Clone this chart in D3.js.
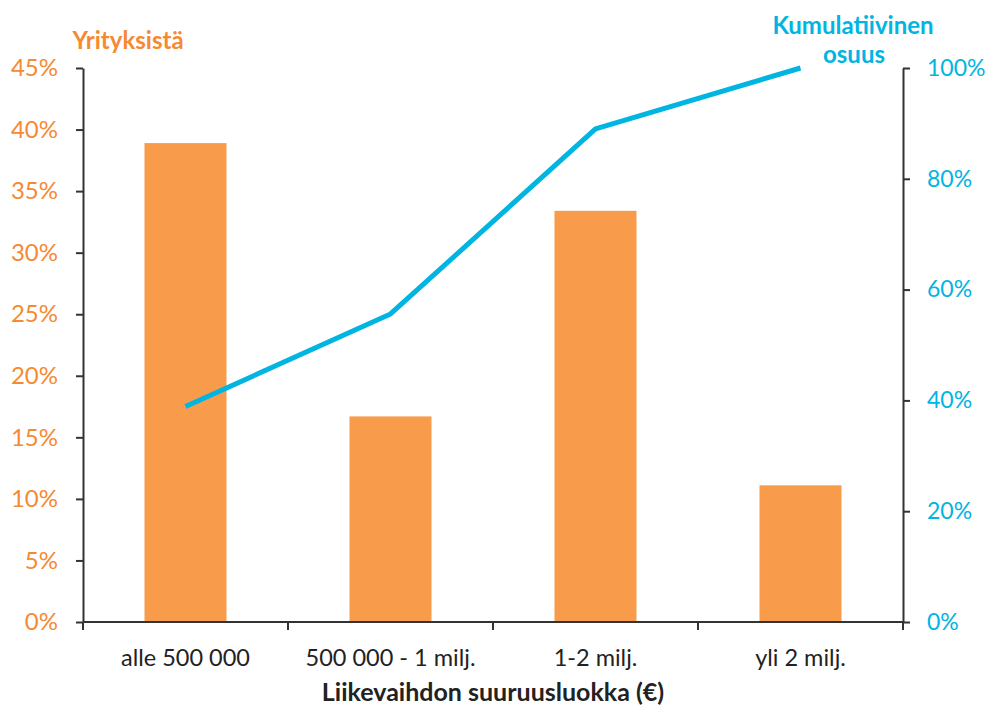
<!DOCTYPE html>
<html>
<head>
<meta charset="utf-8">
<script src="https://cdn.jsdelivr.net/npm/d3@7"></script>
<style>
  body { margin: 0; background: #fff; }
  svg text { font-family: Lato, "Open Sans", sans-serif; }
</style>
</head>
<body>
<svg id="chart" width="987" height="708"></svg>
<script>
// Turnover size classes and share of companies (%)
const categories = ["alle 500 000", "500 000 - 1 milj.", "1-2 milj.", "yli 2 milj."];
const shares = [38.9, 16.7, 33.4, 11.1];
const cumulative = [38.9, 55.6, 89.0, 100.0];
const leftTicks = [0, 5, 10, 15, 20, 25, 30, 35, 40, 45];
const rightTicks = [0, 20, 40, 60, 80, 100];

const orange = "#F89C4C";
const orangeText = "#F58A33";
const cyan = "#00B5E2";

const svg = d3.select("#chart");
const margin = { left: 83, right: 84, top: 68, bottom: 86 };
const W = 987, H = 708;

const xOuter = d3.scaleBand().domain(categories)
  .range([margin.left, W - margin.right]);
const yL = d3.scaleLinear().domain([0, 45]).range([H - margin.bottom, margin.top]);
const yR = d3.scaleLinear().domain([0, 100]).range([H - margin.bottom, margin.top]);

// Bars
svg.append("g").selectAll("rect").data(categories).join("rect")
  .attr("x", (d) => xOuter(d) + xOuter.bandwidth() * 0.3)
  .attr("width", xOuter.bandwidth() * 0.4)
  .attr("y", (d, i) => yL(shares[i]))
  .attr("height", (d, i) => yL(0) - yL(shares[i]))
  .attr("fill", orange);

// Cumulative line
const line = d3.line()
  .x((d, i) => xOuter(categories[i]) + xOuter.bandwidth() / 2)
  .y((d) => yR(d));
svg.append("path").datum(cumulative)
  .attr("d", line)
  .attr("fill", "none")
  .attr("stroke", cyan)
  .attr("stroke-width", 5)
  .attr("stroke-linejoin", "round");

// Left axis
const gL = svg.append("g").attr("transform", `translate(${margin.left},0)`)
  .call(d3.axisLeft(yL).tickValues(leftTicks).tickFormat((d) => d + "%").tickSize(7).tickPadding(18).tickSizeOuter(0));
gL.select(".domain").attr("stroke", "#333").attr("stroke-width", 2);
gL.selectAll(".tick line").attr("stroke", "#333").attr("stroke-width", 2);
gL.selectAll(".tick text").attr("fill", orangeText).attr("font-size", 24);

// Right axis
const gR = svg.append("g").attr("transform", `translate(${W - margin.right},0)`)
  .call(d3.axisRight(yR).tickValues(rightTicks).tickFormat((d) => d + "%").tickSize(7).tickPadding(17).tickSizeOuter(0));
gR.select(".domain").attr("stroke", "#333").attr("stroke-width", 2);
gR.selectAll(".tick line").attr("stroke", "#333").attr("stroke-width", 2);
gR.selectAll(".tick text").attr("fill", cyan).attr("font-size", 23);

// Bottom axis with ticks between categories
const gB = svg.append("g").attr("transform", `translate(0,${H - margin.bottom})`);
gB.append("line")
  .attr("x1", margin.left).attr("x2", W - margin.right)
  .attr("stroke", "#333").attr("stroke-width", 2);
const bounds = categories.map((c) => xOuter(c)).concat([xOuter(categories[categories.length - 1]) + xOuter.bandwidth()]);
gB.selectAll("line.sep").data(bounds).join("line")
  .attr("class", "sep")
  .attr("x1", (d) => d).attr("x2", (d) => d)
  .attr("y1", 0).attr("y2", 8)
  .attr("stroke", "#333").attr("stroke-width", 2);
gB.selectAll("text").data(categories).join("text")
  .attr("x", (d) => xOuter(d) + xOuter.bandwidth() / 2)
  .attr("y", 44)
  .attr("text-anchor", "middle")
  .attr("font-size", 23.5)
  .attr("fill", "#222")
  .text((d) => d);

// Axis titles
svg.append("text").attr("x", 493).attr("y", 701)
  .attr("text-anchor", "middle").attr("font-size", 25).attr("font-weight", "bold")
  .attr("fill", "#222").text("Liikevaihdon suuruusluokka (€)");
svg.append("text").attr("x", 128).attr("y", 49)
  .attr("text-anchor", "middle").attr("font-size", 24).attr("font-weight", "bold")
  .attr("fill", orangeText).text("Yrityksistä");
const rt = svg.append("text").attr("text-anchor", "middle").attr("font-size", 24)
  .attr("font-weight", "bold").attr("fill", cyan);
rt.append("tspan").attr("x", 853).attr("y", 34).text("Kumulatiivinen");
rt.append("tspan").attr("x", 854).attr("y", 63).text("osuus");
</script>
</body>
</html>
